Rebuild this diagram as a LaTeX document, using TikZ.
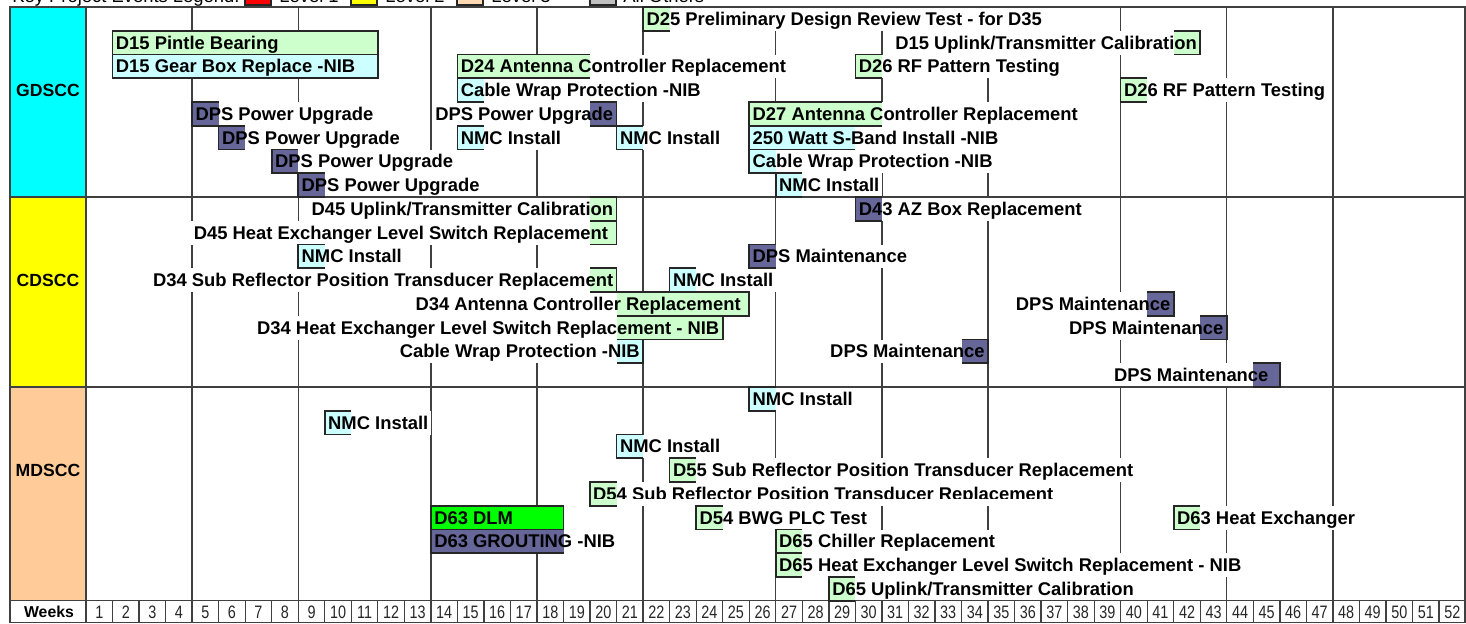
\documentclass[tikz,border=0pt]{standalone}
\usepackage{fontspec}
\setmainfont{Liberation Sans}
\newfontfamily\weekfont[FakeStretch=0.8]{Liberation Sans}
\usepackage{xcolor}
\usepackage{tikz}

\definecolor{evgreen}{HTML}{CCFFCC}
\definecolor{evcyan}{HTML}{CCFFFF}
\definecolor{evdark}{HTML}{666699}
\definecolor{evlime}{HTML}{00FF00}
\definecolor{gdscc}{HTML}{00FFFF}
\definecolor{cdscc}{HTML}{FFFF00}
\definecolor{mdscc}{HTML}{FFCC99}
\definecolor{lvlpeach}{HTML}{FFD9B3}
\definecolor{lvlgray}{HTML}{C0C0C0}

% row / first week / last week / colour / side (0 left, 1 right, 2 boxed) / text
\def\eventlist{
1/22/22/evgreen/0/{D25 Preliminary Design Review Test - for D35},
2/2/11/evgreen/2/{D15 Pintle Bearing},
2/42/42/evgreen/1/{D15 Uplink/Transmitter Calibration},
3/2/11/evcyan/2/{D15 Gear Box Replace -NIB},
3/15/19/evgreen/0/{D24 Antenna Controller Replacement},
3/30/30/evgreen/0/{D26 RF Pattern Testing},
4/15/15/evcyan/0/{Cable Wrap Protection -NIB},
4/40/40/evgreen/0/{D26 RF Pattern Testing},
5/5/5/evdark/0/{DPS Power Upgrade},
5/20/20/evdark/1/{DPS Power Upgrade},
5/26/30/evgreen/0/{D27 Antenna Controller Replacement},
6/6/6/evdark/0/{DPS Power Upgrade},
6/15/15/evcyan/0/{NMC Install},
6/21/21/evcyan/0/{NMC Install},
6/26/29/evcyan/0/{250 Watt S-Band Install -NIB},
7/8/8/evdark/0/{DPS Power Upgrade},
7/26/26/evcyan/0/{Cable Wrap Protection -NIB},
8/9/9/evdark/0/{DPS Power Upgrade},
8/27/27/evcyan/0/{NMC Install},
9/20/20/evgreen/1/{D45 Uplink/Transmitter Calibration},
9/30/30/evdark/0/{D43 AZ Box Replacement},
10/20/20/evgreen/1/{D45 Heat Exchanger Level Switch Replacement\kern2.6pt},
11/9/9/evcyan/0/{NMC Install},
11/26/26/evdark/0/{DPS Maintenance},
12/20/20/evgreen/1/{D34 Sub Reflector Position Transducer Replacement},
12/23/23/evcyan/0/{NMC Install},
13/21/25/evgreen/1/{D34 Antenna Controller Replacement\kern2.6pt},
13/41/41/evdark/1/{DPS Maintenance},
14/21/24/evgreen/1/{D34 Heat Exchanger Level Switch Replacement - NIB},
14/43/43/evdark/1/{DPS Maintenance},
15/21/21/evcyan/1/{Cable Wrap Protection -NIB},
15/34/34/evdark/1/{DPS Maintenance},
16/45/45/evdark/1/{DPS Maintenance\kern4pt},
17/26/26/evcyan/0/{NMC Install},
18/10/10/evcyan/0/{NMC Install},
19/21/21/evcyan/0/{NMC Install},
20/23/23/evgreen/0/{D55 Sub Reflector Position Transducer Replacement},
22/14/18/evlime/2/{D63 DLM},
22/24/24/evgreen/0/{D54 BWG PLC Test},
22/42/42/evgreen/0/{D63 Heat Exchanger},
23/14/18/evdark/0/{D63 GROUTING -NIB},
23/27/27/evgreen/0/{D65 Chiller Replacement},
24/27/27/evgreen/0/{D65 Heat Exchanger Level Switch Replacement - NIB},
25/29/29/evgreen/0/{D65 Uplink/Transmitter Calibration}}

\begin{document}
\begin{tikzpicture}[x=0.5pt,y=-0.5pt,
gridline/.style={draw=black!75,line width=0.65pt},
evtext/.style={font=\bfseries\fontsize{9.2}{11}\selectfont,inner xsep=1.5pt,
inner ysep=0pt,text height=6.6pt,text depth=0pt,minimum height=11.875pt},
evbg/.style={evtext,fill=white,text=white},
evbox/.style={draw=black!85,line width=0.8pt},
al0/.style={anchor=west},
al1/.style={anchor=east},
al2/.style={anchor=west},
site/.style={font=\bfseries\fontsize{8.8}{10}\selectfont,anchor=base,inner sep=0pt},
weektext/.style={font=\weekfont\fontsize{9}{10.8}\selectfont,text=black!85,anchor=base,inner sep=0pt},
legtext/.style={font=\fontsize{9.2}{11}\selectfont,anchor=base west,inner sep=0pt},
legbox/.style={draw=black!85,line width=0.65pt}]
\useasboundingbox (0,0) rectangle (1466,623);

% site columns
\fill[gdscc] (10,7) rectangle (86,197);
\fill[cdscc] (10,197) rectangle (86,387);
\fill[mdscc] (10,387) rectangle (86,600.75);

% month lines
\foreach \w in {4,8,13,17,21,26,30,34,39,43,47}
  \draw[gridline] (86+26.53*\w,7) -- (86+26.53*\w,600.75);

% white text backgrounds
\node[evbg,anchor=west] (d54bg) at (589.8,493.875)
  {D54 Sub Reflector Position Transducer Replacement};
\foreach \r/\a/\b/\c/\s/\t in \eventlist {
  \pgfmathsetmacro\yc{7+23.75*(\r-0.5)}
  \pgfmathsetmacro\xt{ifthenelse(\s==1,86+26.53*\b,86+26.53*(\a-1))}
  \node[evbg,al\s] at (\xt,\yc) {\t};
}

% frame
\draw[gridline] (10,7) rectangle (1465,622.5);
\foreach \y in {197,387,600.75}
  \draw[gridline] (10,\y) -- (1465,\y);
\draw[gridline] (86,7) -- (86,622.5);
\foreach \w in {1,...,51}
  \draw[gridline] (86+26.53*\w,600.75) -- (86+26.53*\w,622.5);

% D54 row is cut at the bottom
\fill[evgreen] (589.8,482) rectangle (616.6,505.75);
\draw[evbox] (616.6,482) -- (589.8,482) -- (589.8,505.75) -- (616.6,505.75);
\begin{scope}
\clip (585,482) rectangle (1100,498.5);
\node[evtext,anchor=west] (d54sub) at (589.8,493.875)
  {D54 Sub Reflector Position Transducer Replacement};
\end{scope}

% bars
\foreach \r/\a/\b/\c/\s/\t in \eventlist {
  \pgfmathsetmacro\yt{7+23.75*(\r-1)}
  \pgfmathsetmacro\yb{7+23.75*\r}
  \pgfmathsetmacro\xa{86+26.53*(\a-1)}
  \pgfmathsetmacro\xb{86+26.53*\b}
  \fill[\c] (\xa,\yt) rectangle (\xb,\yb);
  \ifcase\s\relax
    \draw[evbox] (\xb,\yt) -- (\xa,\yt) -- (\xa,\yb) -- (\xb,\yb);
  \or
    \draw[evbox] (\xa,\yt) -- (\xb,\yt) -- (\xb,\yb) -- (\xa,\yb);
  \or
    \draw[evbox] (\xa,\yt) rectangle (\xb,\yb);
  \fi
}

% labels
\foreach \r/\a/\b/\c/\s/\t [count=\i] in \eventlist {
  \pgfmathsetmacro\yc{7+23.75*(\r-0.5)}
  \pgfmathsetmacro\xt{ifthenelse(\s==1,86+26.53*\b,86+26.53*(\a-1))}
  \node[evtext,al\s] (ev\i) at (\xt,\yc) {\t};
}

% site names
\node[site] (gd) at (48,96.4) {GDSCC};
\node[site] (cd) at (48,286.4) {CDSCC};
\node[site] (md) at (48,476.4) {MDSCC};

% week row
\node[site,font=\bfseries\fontsize{7.9}{9.5}\selectfont] (weeks) at (49,617.5) {Weeks};
\foreach \w in {1,...,52}
  \node[weektext] (wk\w) at (86+26.53*\w-13.26,618) {\w};

% legend
\node[legtext] (legkey) at (12,2) {Key Project Events Legend:};
\filldraw[fill=red,legbox] (245,-15) rectangle (271,5);
\node[legtext] (lv1) at (279,2) {Level 1};
\filldraw[fill=cdscc,legbox] (351,-15) rectangle (377,5);
\node[legtext] (lv2) at (385,2) {Level 2};
\filldraw[fill=lvlpeach,legbox] (457,-15) rectangle (483,5);
\node[legtext] (lv3) at (491,2) {Level 3};
\filldraw[fill=lvlgray,legbox] (590,-15) rectangle (616,5);
\node[legtext] (lvall) at (623,2) {All Others};
\end{tikzpicture}
\end{document}
